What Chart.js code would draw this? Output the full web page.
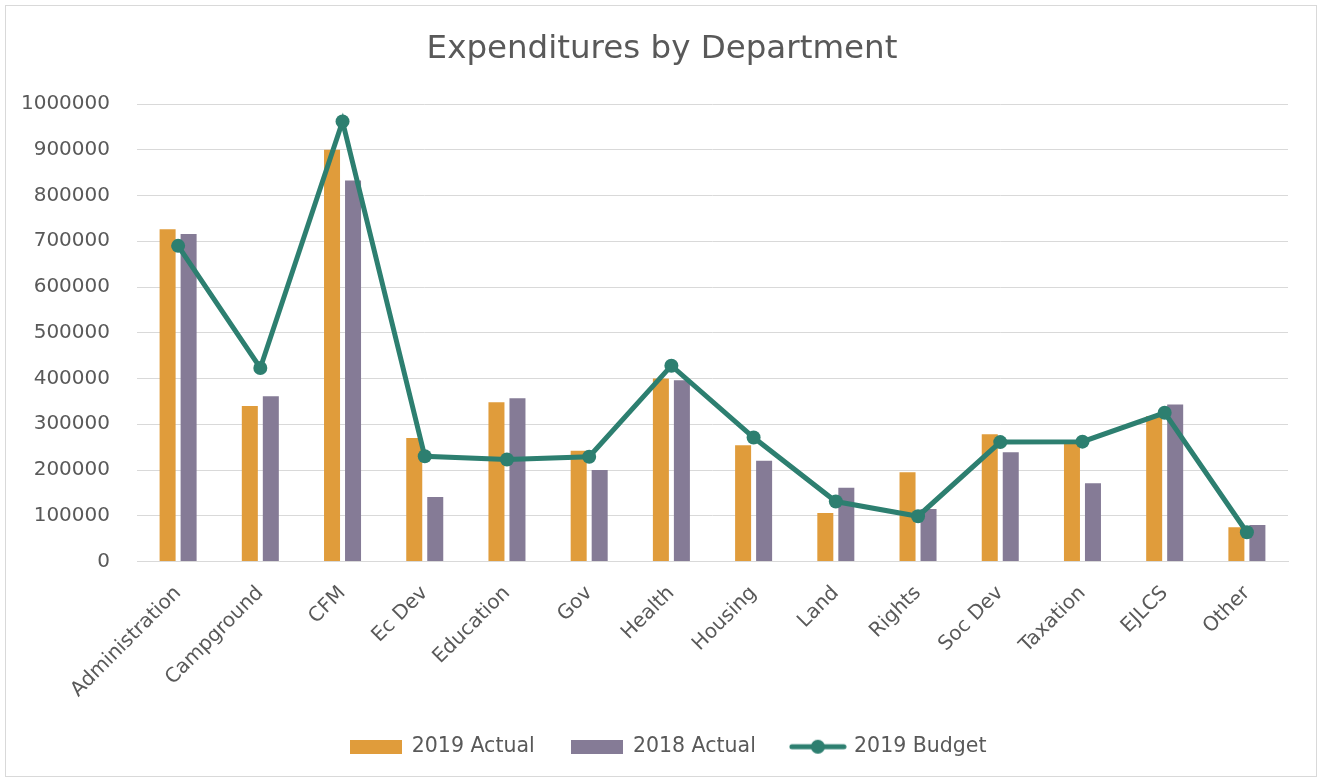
<!DOCTYPE html>
<html>
<head>
<meta charset="utf-8">
<script src="https://cdn.jsdelivr.net/npm/chart.js@4/dist/chart.umd.min.js"></script>
<style>
  html, body { margin: 0; padding: 0; background: #ffffff; }
  #wrap { width: 1318px; height: 780px; position: relative; }
</style>
</head>
<body>
<div id="wrap"><canvas id="c" width="1318" height="780"></canvas></div>
<script>
const categories = ["Administration", "Campground", "CFM", "Ec Dev", "Education", "Gov", "Health", "Housing", "Land", "Rights", "Soc Dev", "Taxation", "EJLCS", "Other"];
const actual2019 = [726000, 340000, 900000, 270000, 348000, 242000, 400000, 254000, 106000, 195000, 278000, 258000, 318000, 75000];
const actual2018 = [716000, 361000, 833000, 141000, 357000, 200000, 396000, 220000, 161000, 115000, 239000, 171000, 343000, 80000];
const budget2019 = [690000, 423000, 962000, 230000, 223000, 229000, 428000, 271000, 131000, 99000, 261000, 262000, 325000, 64000];
const yTicks = [0, 100000, 200000, 300000, 400000, 500000, 600000, 700000, 800000, 900000, 1000000];

const ORANGE = '#E09C3B';
const PURPLE = '#857B96';
const GREEN = '#2D7F70';
const TEXT = '#595959';
const GRID = '#D9D9D9';
const FONT = "'DejaVu Sans', 'Noto Sans', sans-serif";

function boxImg(color) {
  const c = document.createElement('canvas');
  c.width = 52; c.height = 14;
  const x = c.getContext('2d');
  x.fillStyle = color; x.fillRect(0, 0, 52, 14);
  return c;
}
function lineImg(color) {
  const c = document.createElement('canvas');
  c.width = 58; c.height = 16;
  const x = c.getContext('2d');
  x.strokeStyle = color; x.lineWidth = 5; x.lineCap = 'round';
  x.beginPath(); x.moveTo(3, 8); x.lineTo(55, 8); x.stroke();
  x.fillStyle = color; x.beginPath(); x.arc(29, 8, 7, 0, Math.PI * 2); x.fill();
  return c;
}

const framePlugin = {
  id: 'frame',
  afterLayout(chart) {
    // centre the title over the whole frame and nudge the legend like the original
    if (chart.titleBlock) { chart.titleBlock.left = 0; chart.titleBlock.right = 1324; }
    if (chart.legend) { chart.legend.left += 24; chart.legend.right += 24; }
  },
  beforeDraw(chart) {
    const ctx = chart.ctx;
    ctx.save();
    ctx.fillStyle = '#ffffff';
    ctx.fillRect(0, 0, chart.width, chart.height);
    ctx.strokeStyle = GRID;
    ctx.lineWidth = 1;
    ctx.strokeRect(5.5, 5.5, 1311, 771);
    ctx.restore();
  }
};

new Chart(document.getElementById('c'), {
  data: {
    labels: categories,
    datasets: [
      { type: 'bar', label: '2019 Actual', data: actual2019, backgroundColor: ORANGE, order: 2,
        categoryPercentage: 0.511, barPercentage: 0.762 },
      { type: 'bar', label: '2018 Actual', data: actual2018, backgroundColor: PURPLE, order: 3,
        categoryPercentage: 0.511, barPercentage: 0.762 },
      { type: 'line', label: '2019 Budget', data: budget2019, borderColor: GREEN, backgroundColor: GREEN,
        borderWidth: 5, pointRadius: 7, pointHoverRadius: 7, pointBackgroundColor: GREEN, pointBorderWidth: 0,
        tension: 0, order: 1, pointStyle: 'circle' }
    ]
  },
  options: {
    responsive: false,
    animation: false,
    devicePixelRatio: 1,
    layout: { padding: { left: 0, right: 30, top: 10, bottom: 13 } },
    plugins: {
      tooltip: { enabled: false },
      title: {
        display: true, text: 'Expenditures by Department', color: TEXT,
        font: { family: FONT, size: 32.5, weight: 'normal' },
        padding: { top: 20, bottom: 35 }
      },
      legend: {
        position: 'bottom',
        labels: {
          usePointStyle: true, pointStyleWidth: 52, boxHeight: 14,
          padding: 36, color: TEXT,
          font: { family: FONT, size: 20.5 },
          generateLabels(chart) {
            const ds = chart.data.datasets;
            return ds.map((d, i) => ({
              text: d.label,
              fillStyle: d.backgroundColor,
              strokeStyle: d.backgroundColor,
              lineWidth: 0,
              hidden: false,
              datasetIndex: i,
              fontColor: TEXT,
              pointStyle: i === 2 ? lineImg(GREEN) : boxImg(d.backgroundColor)
            }));
          }
        }
      }
    },
    scales: {
      x: {
        grid: { display: false, drawTicks: false },
        border: { display: true, color: GRID, width: 1 },
        ticks: { color: TEXT, font: { family: FONT, size: 20 }, minRotation: 45, maxRotation: 45, padding: 20, autoSkip: false },
        afterFit(scale) { scale.height = 139; }
      },
      y: {
        min: 0, max: 1000000,
        afterBuildTicks(scale) { scale.ticks = yTicks.map(v => ({ value: v })); },
        grid: { color: GRID, lineWidth: 1, drawTicks: false },
        border: { display: false },
        ticks: { color: TEXT, font: { family: FONT, size: 20 }, padding: 27, callback: v => String(v) },
        afterFit(scale) { scale.width = 137; }
      }
    }
  },
  plugins: [framePlugin]
});
</script>
</body>
</html>
